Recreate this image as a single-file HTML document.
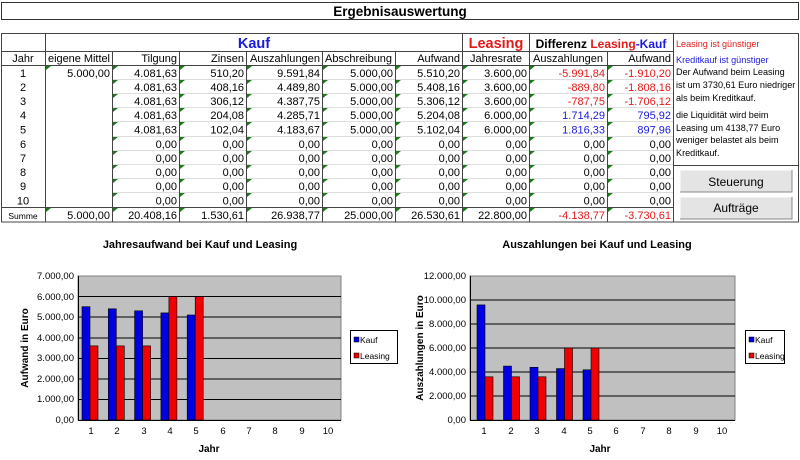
<!DOCTYPE html>
<html><head><meta charset="utf-8"><style>
html,body{margin:0;padding:0;background:#fff}
svg{display:block;font-family:"Liberation Sans",Arial,sans-serif}
.d text{font-size:11px;fill:#000}
.n text{font-size:9.1px}
.ax text{font-size:9.5px;fill:#000}
</style></head><body>
<svg width="800" height="460" viewBox="0 0 800 460">
<rect x="0" y="0" width="800" height="460" fill="#fff"/>
<rect x="1.5" y="2.5" width="797" height="17" fill="#fff" stroke="#333"/>
<text x="400" y="16" text-anchor="middle" font-size="13.5" font-weight="bold">Ergebnisauswertung</text>

<g stroke="#ddd" stroke-width="1">
<line x1="112" y1="79.5" x2="673" y2="79.5"/><line x1="112" y1="93.5" x2="673" y2="93.5"/>
<line x1="112" y1="107.5" x2="673" y2="107.5"/><line x1="112" y1="121.5" x2="673" y2="121.5"/>
<line x1="112" y1="136.5" x2="673" y2="136.5"/><line x1="112" y1="150.5" x2="673" y2="150.5"/>
<line x1="112" y1="164.5" x2="673" y2="164.5"/><line x1="112" y1="178.5" x2="673" y2="178.5"/>
<line x1="112" y1="192.5" x2="673" y2="192.5"/>
</g>
<g stroke="#444" stroke-width="1" fill="none">
<rect x="1.5" y="33.5" width="797" height="188.5"/>
<line x1="1" y1="51.5" x2="673" y2="51.5"/>
<line x1="1" y1="65.5" x2="673" y2="65.5"/>
<line x1="1" y1="207.5" x2="673" y2="207.5"/>
<line x1="45.5" y1="33" x2="45.5" y2="222"/>
<line x1="112.5" y1="51" x2="112.5" y2="222"/>
<line x1="179.5" y1="51" x2="179.5" y2="222"/>
<line x1="246.5" y1="51" x2="246.5" y2="222"/>
<line x1="322.5" y1="51" x2="322.5" y2="222"/>
<line x1="395.5" y1="51" x2="395.5" y2="222"/>
<line x1="462.5" y1="33" x2="462.5" y2="222"/>
<line x1="529.5" y1="33" x2="529.5" y2="222"/>
<line x1="607.5" y1="51" x2="607.5" y2="222"/>
<line x1="673.5" y1="33" x2="673.5" y2="222"/>
<line x1="673" y1="165.5" x2="799" y2="165.5"/>
</g>

<g fill="#1a7a1a">
<polygon points="46,66 51,66 46,70"/><polygon points="46,208 51,208 46,212"/>
<path d="M113,66h5l-5,4zM113,80h5l-5,4zM113,94h5l-5,4zM113,108h5l-5,4zM113,122h5l-5,4zM113,137h5l-5,4zM113,151h5l-5,4zM113,165h5l-5,4zM113,179h5l-5,4zM113,193h5l-5,4zM113,208h5l-5,4z"/>
<path transform="translate(67,0)" d="M113,66h5l-5,4zM113,80h5l-5,4zM113,94h5l-5,4zM113,108h5l-5,4zM113,122h5l-5,4zM113,137h5l-5,4zM113,151h5l-5,4zM113,165h5l-5,4zM113,179h5l-5,4zM113,193h5l-5,4zM113,208h5l-5,4z"/>
<path transform="translate(134,0)" d="M113,66h5l-5,4zM113,80h5l-5,4zM113,94h5l-5,4zM113,108h5l-5,4zM113,122h5l-5,4zM113,137h5l-5,4zM113,151h5l-5,4zM113,165h5l-5,4zM113,179h5l-5,4zM113,193h5l-5,4zM113,208h5l-5,4z"/>
<path transform="translate(210,0)" d="M113,66h5l-5,4zM113,80h5l-5,4zM113,94h5l-5,4zM113,108h5l-5,4zM113,122h5l-5,4zM113,137h5l-5,4zM113,151h5l-5,4zM113,165h5l-5,4zM113,179h5l-5,4zM113,193h5l-5,4zM113,208h5l-5,4z"/>
<path transform="translate(283,0)" d="M113,66h5l-5,4zM113,80h5l-5,4zM113,94h5l-5,4zM113,108h5l-5,4zM113,122h5l-5,4zM113,137h5l-5,4zM113,151h5l-5,4zM113,165h5l-5,4zM113,179h5l-5,4zM113,193h5l-5,4zM113,208h5l-5,4z"/>
<path transform="translate(350,0)" d="M113,66h5l-5,4zM113,80h5l-5,4zM113,94h5l-5,4zM113,108h5l-5,4zM113,122h5l-5,4zM113,137h5l-5,4zM113,151h5l-5,4zM113,165h5l-5,4zM113,179h5l-5,4zM113,193h5l-5,4zM113,208h5l-5,4z"/>
<path transform="translate(417,0)" d="M113,66h5l-5,4zM113,80h5l-5,4zM113,94h5l-5,4zM113,108h5l-5,4zM113,122h5l-5,4zM113,137h5l-5,4zM113,151h5l-5,4zM113,165h5l-5,4zM113,179h5l-5,4zM113,193h5l-5,4zM113,208h5l-5,4z"/>
<path transform="translate(495,0)" d="M113,66h5l-5,4zM113,80h5l-5,4zM113,94h5l-5,4zM113,108h5l-5,4zM113,122h5l-5,4zM113,137h5l-5,4zM113,151h5l-5,4zM113,165h5l-5,4zM113,179h5l-5,4zM113,193h5l-5,4zM113,208h5l-5,4z"/>
</g>

<text x="254" y="48" text-anchor="middle" font-size="14.5" font-weight="bold" fill="#1a1adb">Kauf</text>
<text x="496" y="48" text-anchor="middle" font-size="14.5" font-weight="bold" fill="#e21a1a">Leasing</text>
<text x="601" y="48" text-anchor="middle" font-size="12" font-weight="bold"><tspan fill="#000">Differenz </tspan><tspan fill="#e21a1a">Leasing</tspan><tspan fill="#1a1adb">-Kauf</tspan></text>
<g class="d">
<text x="23" y="62" text-anchor="middle">Jahr</text>
<text x="48" y="62" textLength="62">eigene Mittel</text>
<text x="177" y="62" text-anchor="end">Tilgung</text>
<text x="244" y="62" text-anchor="end">Zinsen</text>
<text x="250" y="62" textLength="70">Auszahlungen</text>
<text x="325" y="62" textLength="67">Abschreibung</text>
<text x="460" y="62" text-anchor="end">Aufwand</text>
<text x="496" y="62" text-anchor="middle">Jahresrate</text>
<text x="533" y="62" textLength="70">Auszahlungen</text>
<text x="671" y="62" text-anchor="end">Aufwand</text>
</g>

<g class="d" text-anchor="middle">
<text x="23" y="77">1</text><text x="23" y="91">2</text><text x="23" y="105">3</text><text x="23" y="119">4</text><text x="23" y="133.5">5</text>
<text x="23" y="148">6</text><text x="23" y="162">7</text><text x="23" y="176">8</text><text x="23" y="190">9</text><text x="23" y="204.5">10</text>
<text x="23" y="219" style="font-size:8.5px">Summe</text>
</g>
<g class="d" text-anchor="end">
<text x="110" y="77">5.000,00</text><text x="110" y="219">5.000,00</text>
<text x="177" y="77">4.081,63</text><text x="177" y="91">4.081,63</text><text x="177" y="105">4.081,63</text><text x="177" y="119">4.081,63</text><text x="177" y="133.5">4.081,63</text>
<text x="177" y="148">0,00</text><text x="177" y="162">0,00</text><text x="177" y="176">0,00</text><text x="177" y="190">0,00</text><text x="177" y="204.5">0,00</text><text x="177" y="219">20.408,16</text>
<text x="244" y="77">510,20</text><text x="244" y="91">408,16</text><text x="244" y="105">306,12</text><text x="244" y="119">204,08</text><text x="244" y="133.5">102,04</text>
<text x="244" y="148">0,00</text><text x="244" y="162">0,00</text><text x="244" y="176">0,00</text><text x="244" y="190">0,00</text><text x="244" y="204.5">0,00</text><text x="244" y="219">1.530,61</text>
<text x="320" y="77">9.591,84</text><text x="320" y="91">4.489,80</text><text x="320" y="105">4.387,75</text><text x="320" y="119">4.285,71</text><text x="320" y="133.5">4.183,67</text>
<text x="320" y="148">0,00</text><text x="320" y="162">0,00</text><text x="320" y="176">0,00</text><text x="320" y="190">0,00</text><text x="320" y="204.5">0,00</text><text x="320" y="219">26.938,77</text>
<text x="393" y="77">5.000,00</text><text x="393" y="91">5.000,00</text><text x="393" y="105">5.000,00</text><text x="393" y="119">5.000,00</text><text x="393" y="133.5">5.000,00</text>
<text x="393" y="148">0,00</text><text x="393" y="162">0,00</text><text x="393" y="176">0,00</text><text x="393" y="190">0,00</text><text x="393" y="204.5">0,00</text><text x="393" y="219">25.000,00</text>
<text x="460" y="77">5.510,20</text><text x="460" y="91">5.408,16</text><text x="460" y="105">5.306,12</text><text x="460" y="119">5.204,08</text><text x="460" y="133.5">5.102,04</text>
<text x="460" y="148">0,00</text><text x="460" y="162">0,00</text><text x="460" y="176">0,00</text><text x="460" y="190">0,00</text><text x="460" y="204.5">0,00</text><text x="460" y="219">26.530,61</text>
<text x="527" y="77">3.600,00</text><text x="527" y="91">3.600,00</text><text x="527" y="105">3.600,00</text><text x="527" y="119">6.000,00</text><text x="527" y="133.5">6.000,00</text>
<text x="527" y="148">0,00</text><text x="527" y="162">0,00</text><text x="527" y="176">0,00</text><text x="527" y="190">0,00</text><text x="527" y="204.5">0,00</text><text x="527" y="219">22.800,00</text>
<text x="605" y="77" style="fill:#e21a1a">-5.991,84</text><text x="605" y="91" style="fill:#e21a1a">-889,80</text><text x="605" y="105" style="fill:#e21a1a">-787,75</text><text x="605" y="119" style="fill:#1a1adb">1.714,29</text><text x="605" y="133.5" style="fill:#1a1adb">1.816,33</text>
<text x="605" y="148">0,00</text><text x="605" y="162">0,00</text><text x="605" y="176">0,00</text><text x="605" y="190">0,00</text><text x="605" y="204.5">0,00</text><text x="605" y="219" style="fill:#e21a1a">-4.138,77</text>
<text x="671" y="77" style="fill:#e21a1a">-1.910,20</text><text x="671" y="91" style="fill:#e21a1a">-1.808,16</text><text x="671" y="105" style="fill:#e21a1a">-1.706,12</text><text x="671" y="119" style="fill:#1a1adb">795,92</text><text x="671" y="133.5" style="fill:#1a1adb">897,96</text>
<text x="671" y="148">0,00</text><text x="671" y="162">0,00</text><text x="671" y="176">0,00</text><text x="671" y="190">0,00</text><text x="671" y="204.5">0,00</text><text x="671" y="219" style="fill:#e21a1a">-3.730,61</text>
</g>

<g class="n">
<text x="676" y="47" fill="#e21a1a">Leasing ist günstiger</text>
<text x="676" y="63" fill="#1a1adb">Kreditkauf ist günstiger</text>
<text x="676" y="75">Der Aufwand beim Leasing</text>
<text x="676" y="88">ist um 3730,61 Euro niedriger</text>
<text x="676" y="101">als beim Kreditkauf.</text>
<text x="676" y="118">die Liquidität wird beim</text>
<text x="676" y="131">Leasing um 4138,77 Euro</text>
<text x="676" y="143">weniger belastet als beim</text>
<text x="676" y="156">Kreditkauf.</text>
</g>
<rect x="680" y="170" width="112" height="22" fill="#e4e4e4"/>
<path d="M680,192V170H792" stroke="#fff" fill="none"/><path d="M680,192H792V170" stroke="#888" fill="none"/>
<text x="736" y="186" text-anchor="middle" font-size="12">Steuerung</text>
<rect x="680" y="197" width="112" height="22" fill="#e4e4e4"/>
<path d="M680,219V197H792" stroke="#fff" fill="none"/><path d="M680,219H792V197" stroke="#888" fill="none"/>
<text x="736" y="212" text-anchor="middle" font-size="12">Aufträge</text>

<text x="200" y="248" text-anchor="middle" font-size="11" font-weight="bold">Jahresaufwand bei Kauf und Leasing</text>
<rect x="78" y="276" width="263" height="144" fill="#c0c0c0" stroke="#808080"/>
<g stroke="#000" stroke-width="1">
<line x1="78" y1="296.5" x2="341" y2="296.5"/><line x1="78" y1="317" x2="341" y2="317"/>
<line x1="78" y1="338" x2="341" y2="338"/><line x1="78" y1="358.5" x2="341" y2="358.5"/>
<line x1="78" y1="379" x2="341" y2="379"/><line x1="78" y1="399.5" x2="341" y2="399.5"/>
</g>
<g stroke="#000" stroke-width="0.6">
<rect x="82" y="306.7" width="8" height="113.3" fill="#0000e0"/><rect x="90" y="345.9" width="8" height="74.1" fill="#f00000"/>
<rect x="108.3" y="308.8" width="8" height="111.2" fill="#0000e0"/><rect x="116.3" y="345.9" width="8" height="74.1" fill="#f00000"/>
<rect x="134.6" y="310.8" width="8" height="109.2" fill="#0000e0"/><rect x="142.6" y="345.9" width="8" height="74.1" fill="#f00000"/>
<rect x="160.9" y="312.9" width="8" height="107.1" fill="#0000e0"/><rect x="168.9" y="296.6" width="8" height="123.4" fill="#f00000"/>
<rect x="187.2" y="315" width="8" height="105" fill="#0000e0"/><rect x="195.2" y="296.6" width="8" height="123.4" fill="#f00000"/>
</g>
<line x1="78" y1="420.5" x2="341" y2="420.5" stroke="#000"/>
<line x1="78.5" y1="276" x2="78.5" y2="420" stroke="#000"/>
<g class="ax" text-anchor="end">
<text x="74" y="279">7.000,00</text><text x="74" y="300">6.000,00</text><text x="74" y="320">5.000,00</text><text x="74" y="341">4.000,00</text>
<text x="74" y="361">3.000,00</text><text x="74" y="382">2.000,00</text><text x="74" y="402">1.000,00</text><text x="74" y="423">0,00</text>
</g>
<g class="ax" text-anchor="middle">
<text x="91" y="434">1</text><text x="117" y="434">2</text><text x="144" y="434">3</text><text x="170" y="434">4</text><text x="196" y="434">5</text>
<text x="223" y="434">6</text><text x="249" y="434">7</text><text x="275" y="434">8</text><text x="302" y="434">9</text><text x="328" y="434">10</text>
</g>
<text x="209" y="452" text-anchor="middle" font-size="10" font-weight="bold">Jahr</text>
<text transform="translate(28,348) rotate(-90)" text-anchor="middle" font-size="10" font-weight="bold">Aufwand in Euro</text>
<rect x="350.5" y="330.5" width="47" height="33" fill="#fff" stroke="#000"/>
<rect x="354" y="337" width="5" height="5" fill="#0000e0" stroke="#000" stroke-width="0.5"/>
<rect x="354" y="353" width="5" height="5" fill="#f00000" stroke="#000" stroke-width="0.5"/>
<text x="360" y="343" font-size="8.5">Kauf</text><text x="360" y="359" font-size="8.5">Leasing</text>

<text x="597" y="248" text-anchor="middle" font-size="11" font-weight="bold">Auszahlungen bei Kauf und Leasing</text>
<rect x="470" y="276" width="265" height="144" fill="#c0c0c0" stroke="#808080"/>
<g stroke="#000" stroke-width="1">
<line x1="470" y1="300" x2="735" y2="300"/><line x1="470" y1="324" x2="735" y2="324"/>
<line x1="470" y1="348" x2="735" y2="348"/><line x1="470" y1="372" x2="735" y2="372"/>
<line x1="470" y1="396" x2="735" y2="396"/>
</g>
<g stroke="#000" stroke-width="0.6">
<rect x="477" y="304.9" width="8" height="115.1" fill="#0000e0"/><rect x="485" y="376.8" width="8" height="43.2" fill="#f00000"/>
<rect x="503.5" y="366.1" width="8" height="53.9" fill="#0000e0"/><rect x="511.5" y="376.8" width="8" height="43.2" fill="#f00000"/>
<rect x="530" y="367.3" width="8" height="52.7" fill="#0000e0"/><rect x="538" y="376.8" width="8" height="43.2" fill="#f00000"/>
<rect x="556.5" y="368.6" width="8" height="51.4" fill="#0000e0"/><rect x="564.5" y="348" width="8" height="72" fill="#f00000"/>
<rect x="583" y="369.8" width="8" height="50.2" fill="#0000e0"/><rect x="591" y="348" width="8" height="72" fill="#f00000"/>
</g>
<line x1="470" y1="420.5" x2="735" y2="420.5" stroke="#000"/>
<line x1="470.5" y1="276" x2="470.5" y2="420" stroke="#000"/>
<g class="ax" text-anchor="end">
<text x="466" y="279">12.000,00</text><text x="466" y="303">10.000,00</text><text x="466" y="327">8.000,00</text><text x="466" y="351">6.000,00</text>
<text x="466" y="375">4.000,00</text><text x="466" y="399">2.000,00</text><text x="466" y="423">0,00</text>
</g>
<g class="ax" text-anchor="middle">
<text x="484" y="434">1</text><text x="511" y="434">2</text><text x="537" y="434">3</text><text x="564" y="434">4</text><text x="590" y="434">5</text>
<text x="616" y="434">6</text><text x="643" y="434">7</text><text x="669" y="434">8</text><text x="696" y="434">9</text><text x="722" y="434">10</text>
</g>
<text x="600" y="452" text-anchor="middle" font-size="10" font-weight="bold">Jahr</text>
<text transform="translate(423,348) rotate(-90)" text-anchor="middle" font-size="10" font-weight="bold">Auszahlungen in Euro</text>
<rect x="745.5" y="330.5" width="39" height="33" fill="#fff" stroke="#000"/>
<rect x="749" y="337" width="5" height="5" fill="#0000e0" stroke="#000" stroke-width="0.5"/>
<rect x="749" y="353" width="5" height="5" fill="#f00000" stroke="#000" stroke-width="0.5"/>
<text x="755" y="343" font-size="8.5">Kauf</text><text x="755" y="359" font-size="8.5">Leasing</text>
</svg>
</body></html>
